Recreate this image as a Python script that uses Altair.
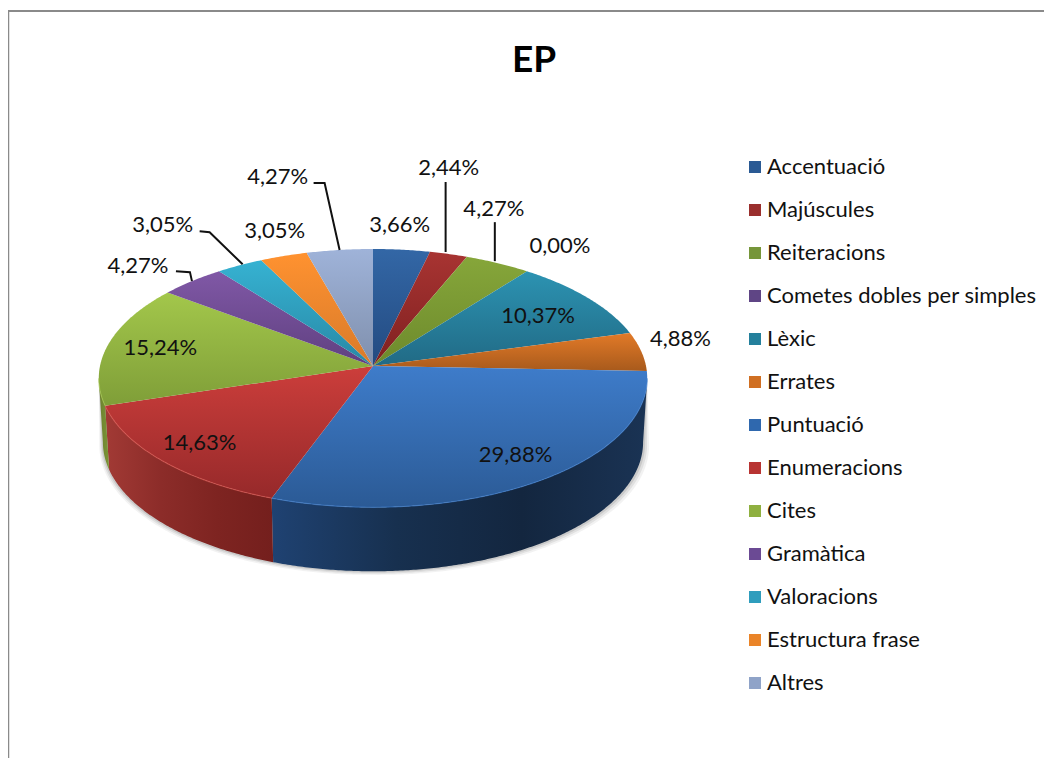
import math
import altair as alt
import pandas as pd

# ---------- data ----------
categories = ["Accentuació", "Majúscules", "Reiteracions", "Cometes dobles per simples", "Lèxic",
              "Errates", "Puntuació", "Enumeracions", "Cites", "Gramàtica", "Valoracions",
              "Estructura frase", "Altres"]
values = [3.66, 2.44, 4.27, 0.00, 10.37, 4.88, 29.88, 14.63, 15.24, 4.27, 3.05, 3.05, 4.27]
labels = ["3,66%", "2,44%", "4,27%", "0,00%", "10,37%", "4,88%", "29,88%", "14,63%", "15,24%",
          "4,27%", "3,05%", "3,05%", "4,27%"]
legend_colors = ["#2a5a94", "#9a2f2d", "#76963a", "#5f4585", "#24809c", "#d06f22", "#2f68ae",
                 "#b83432", "#8fb040", "#6b4a94", "#2f9dbd", "#ea8428", "#8fa3c8"]
top_light = ["#3367a6", "#a83432", "#86a63a", "#6f4a92", "#2c93b2", "#e27a28", "#3e7cca",
             "#cc3e3b", "#a3c74b", "#8058a6", "#36b2d2", "#ff9230", "#9fb3d9"]
top_dark = ["#234a80", "#7f2020", "#6d8a2c", "#5c3d7c", "#216a85", "#a85a1c", "#2b5a95",
            "#96292a", "#7f9e38", "#5f4080", "#2888a5", "#d87a2a", "#7f8fac"]
wall_stops = {6: ["#1f4272", "#17304f", "#13263f", "#1a3354"],
              7: ["#a23a35", "#8c2c29", "#7e2421", "#741f1d"],
              8: ["#6b8030", "#718732", "#768e34", "#7c9636"]}
rim_color = {6: "#3f80d2", 7: "#dc5650", 8: "#a3c74b"}

# ---------- layout (page pixels) ----------
W, H = 1036, 750
CX, CY, RX, RY, K = 373.0, 366.0, 273.0, 128.0, 0.094
DEPTH, BOTTOM_SCALE = 64.0, 0.985
label_dx = [-2, 0, -4, 33, -50, 39, -23, 37, 52, -54, -77, -9, -62]
label_dy = [-25, -86, -54, -25, 18, -13, -26, -18, 4, -15, -40, -25, -73]
leaders = {1: [(-3, -2), (-3, -72)], 2: [(-3, -2), (-3, -41)],
           9: [(0, 0), (-2, -9), (-16, -10)], 10: [(3, -1), (-30, -33), (-40, -34)],
           12: [(0, 0), (-15, -67), (-26, -67)]}
FONT = "Lato"
LABEL_SIZE = 22


def project(theta, r=1.0):
    u, v = math.sin(theta) * r, math.cos(theta) * r
    w = 1 + K * v
    return CX + RX * u / w, CY - RY * v / w


def under(p):
    return CX + (p[0] - CX) * BOTTOM_SCALE, p[1] + DEPTH


def arc_points(a, b, step=math.radians(0.5)):
    n = max(2, int((b - a) / step) + 1)
    return [project(a + (b - a) * i / (n - 1)) for i in range(n)]


X = alt.X("x:Q", scale=alt.Scale(domain=[8, 8 + W], nice=False, zero=False), axis=None)
Y = alt.Y("y:Q", scale=alt.Scale(domain=[8 + H, 8], nice=False, zero=False), axis=None)


def frame(pts):
    return pd.DataFrame({"i": range(len(pts)), "x": [p[0] for p in pts], "y": [p[1] for p in pts]})


def poly(pts, **mark):
    return alt.Chart(frame(pts)).mark_line(clip=False, **mark).encode(
        x=X, y=Y, order=alt.Order("i:Q"))


def grad(colors, horizontal=False):
    n = len(colors) - 1
    return {"gradient": "linear", "x1": 0, "y1": 0, "x2": 1 if horizontal else 0, "y2": 0 if horizontal else 1,
            "stops": [{"offset": j / n, "color": col} for j, col in enumerate(colors)]}


total = sum(values)
starts, ends = [], []
c = 0.0
for v in values:
    starts.append(c / total * 2 * math.pi)
    c += v
    ends.append(c / total * 2 * math.pi)
mids = [(a + b) / 2 for a, b in zip(starts, ends)]

WALL_A, WALL_B = math.pi - math.acos(K), math.pi + math.acos(K)
layers = []

# frame of the picture
layers.append(poly([(8.5, 8 + H), (8.5, 11)], stroke="#8a8a8a", strokeWidth=1.5))
layers.append(poly([(8, 11), (8 + W, 11)], stroke="#8a8a8a", strokeWidth=2))

# soft shadow under the wall
full_rim = arc_points(WALL_A, WALL_B)
for off, op in [(6, 0.05), (4, 0.07), (2, 0.1)]:
    pts = [(p[0] + (off if p[0] > CX else -off * 0.6), p[1] + off * 0.6)
           for p in [under(q) for q in full_rim]] + full_rim[::-1]
    layers.append(poly(pts, fill="#000000", fillOpacity=op, strokeWidth=0))

# walls
for i in wall_stops:
    a, b = max(starts[i], WALL_A), min(ends[i], WALL_B)
    rim = arc_points(a, b)
    pts = rim + [under(p) for p in rim[::-1]]
    layers.append(poly(pts, fill=grad(wall_stops[i], True), strokeWidth=0))

# top faces
for i in range(len(values)):
    if values[i] == 0:
        continue
    pts = [(CX, CY)] + arc_points(starts[i], ends[i])
    layers.append(poly(pts, fill=grad([top_light[i], top_dark[i]]), strokeWidth=0))

# highlight along the front edge
for i in rim_color:
    a, b = max(starts[i], WALL_A), min(ends[i], WALL_B)
    layers.append(poly(arc_points(a, b), stroke=rim_color[i], strokeWidth=1.2, strokeOpacity=0.6))

# leader lines
rim_mid = [project(m) for m in mids]
for i, offs in leaders.items():
    pts = [(rim_mid[i][0] + dx, rim_mid[i][1] + dy) for dx, dy in offs]
    layers.append(poly(pts, stroke="#111111", strokeWidth=2))

# labels
lab = pd.DataFrame({"x": [p[0] + d for p, d in zip(rim_mid, label_dx)],
                    "y": [p[1] + d for p, d in zip(rim_mid, label_dy)],
                    "t": labels})
layers.append(alt.Chart(lab).mark_text(font=FONT, fontSize=LABEL_SIZE, color="#111111",
                                       align="center", baseline="middle").encode(x=X, y=Y, text="t:N"))

# legend carrier
leg = pd.DataFrame({"x": [p[0] for p in rim_mid], "y": [p[1] for p in rim_mid], "c": categories})
layers.append(alt.Chart(leg).mark_point(filled=True, opacity=0).encode(
    x=X, y=Y,
    color=alt.Color("c:N", scale=alt.Scale(domain=categories, range=legend_colors),
                    legend=alt.Legend(title=None, orient="none", legendX=736, legendY=148, padding=0,
                                      symbolType="square", symbolSize=144, symbolOpacity=1,
                                      symbolStrokeWidth=0, labelFont=FONT, labelFontSize=22,
                                      labelColor="#111111", labelLimit=400, labelOffset=1,
                                      rowPadding=21, columns=1))))

chart = alt.layer(*layers).properties(
    width=W, height=H,
    title=alt.TitleParams("EP", font=FONT, fontSize=37, fontWeight="bold", color="#000000",
                          anchor="middle", dx=8, dy=77),
    padding=0,
    background="#ffffff",
    autosize=alt.AutoSizeParams(type="none"),
).configure_view(strokeWidth=0)

chart.save("out.html", embed_options={"renderer": "svg", "actions": False})
